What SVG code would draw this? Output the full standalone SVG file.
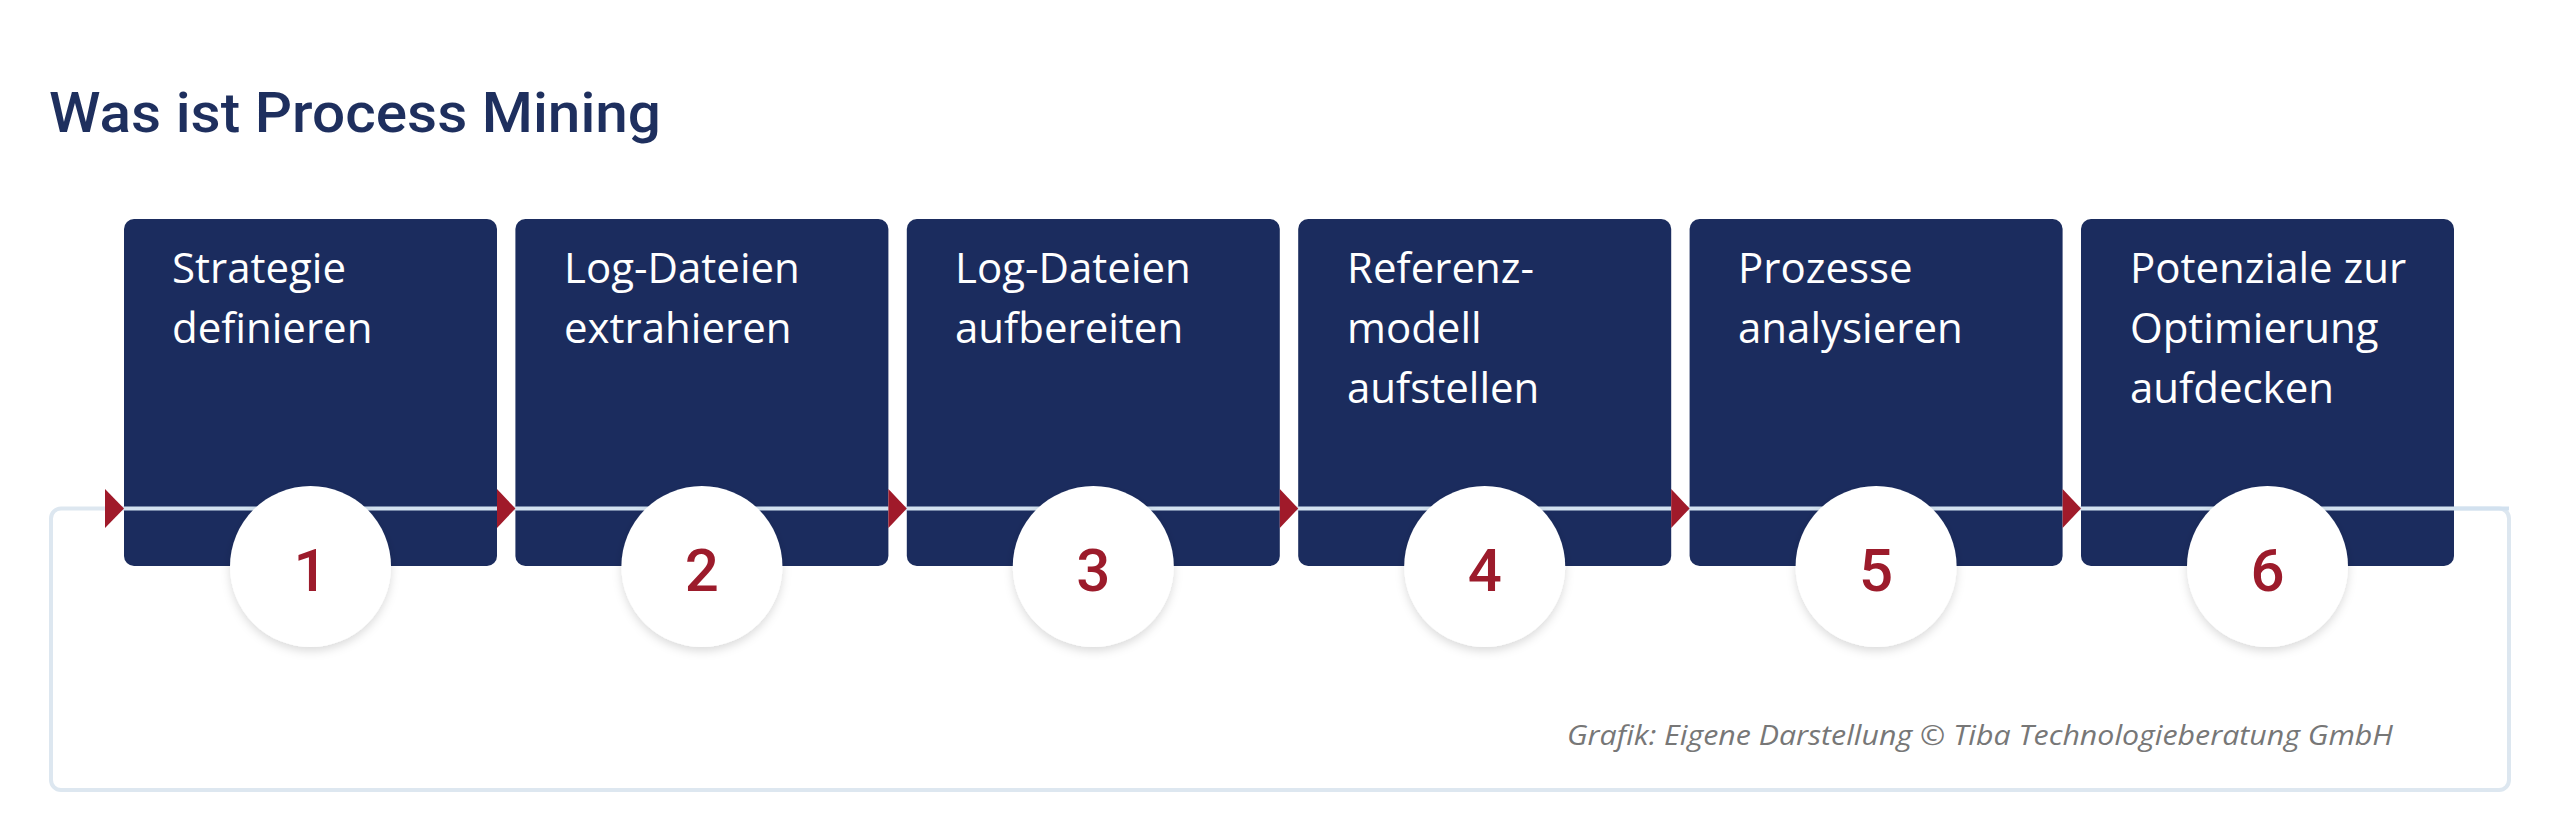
<svg xmlns="http://www.w3.org/2000/svg" width="2560" height="832" viewBox="0 0 2560 832">
<defs>
<style>
.box{fill:#1b2c5e}
.lbl{font-family:"Open Sans","Noto Sans",sans-serif;font-size:42px;fill:#ffffff}
.num{font-family:Roboto,"Open Sans",sans-serif;font-size:60px;font-weight:500;fill:#9c1b2b;text-anchor:middle}
.circ{fill:#ffffff;filter:url(#sh)}
.arr{fill:#a01a2a}
.ln{stroke:#d2e1ef;stroke-width:4;fill:none}
</style>
<filter id="sh" x="-30%" y="-30%" width="160%" height="170%">
<feDropShadow dx="0" dy="4" stdDeviation="5" flood-color="#000000" flood-opacity="0.14"/>
</filter>
</defs>
<rect width="2560" height="832" fill="#ffffff"/>
<text x="49" y="132" font-family="Roboto,'Open Sans',sans-serif" font-size="56" font-weight="500" fill="#1e2f5e" textLength="612" lengthAdjust="spacingAndGlyphs">Was ist Process Mining</text>
<rect x="51" y="508.5" width="2458" height="281.5" rx="10" fill="none" stroke="#dde7f0" stroke-width="4"/>
<g id="n1"><rect class="box" x="124" y="219" width="373" height="347" rx="10"/><text class="lbl" x="172" y="283">Strategie</text><text class="lbl" x="172" y="343">definieren</text></g>
<g id="n2"><rect class="box" x="515.4" y="219" width="373" height="347" rx="10"/><text class="lbl" x="564" y="283">Log-Dateien</text><text class="lbl" x="564" y="343">extrahieren</text></g>
<g id="n3"><rect class="box" x="906.8" y="219" width="373" height="347" rx="10"/><text class="lbl" x="955" y="283">Log-Dateien</text><text class="lbl" x="955" y="343">aufbereiten</text></g>
<g id="n4"><rect class="box" x="1298.2" y="219" width="373" height="347" rx="10"/><text class="lbl" x="1347" y="283">Referenz-</text><text class="lbl" x="1347" y="343">modell</text><text class="lbl" x="1347" y="403">aufstellen</text></g>
<g id="n5"><rect class="box" x="1689.6" y="219" width="373" height="347" rx="10"/><text class="lbl" x="1738" y="283">Prozesse</text><text class="lbl" x="1738" y="343">analysieren</text></g>
<g id="n6"><rect class="box" x="2081" y="219" width="373" height="347" rx="10"/><text class="lbl" x="2130" y="283">Potenziale zur</text><text class="lbl" x="2130" y="343">Optimierung</text><text class="lbl" x="2130" y="403">aufdecken</text></g>
<g id="connectors">
<line class="ln" x1="105" y1="508.5" x2="2509" y2="508.5"/>
<polygon class="arr" points="105,489 124,508.5 105,528"/>
<polygon class="arr" points="497,489 515.4,508.5 497,528"/>
<polygon class="arr" points="888.4,489 906.8,508.5 888.4,528"/>
<polygon class="arr" points="1279.8,489 1298.2,508.5 1279.8,528"/>
<polygon class="arr" points="1671.2,489 1689.6,508.5 1671.2,528"/>
<polygon class="arr" points="2062.6,489 2081,508.5 2062.6,528"/>
</g>
<g id="c1"><circle class="circ" cx="310.5" cy="566.5" r="80.5"/><text class="num" x="310.5" y="591">1</text></g>
<g id="c2"><circle class="circ" cx="701.9" cy="566.5" r="80.5"/><text class="num" x="701.9" y="591">2</text></g>
<g id="c3"><circle class="circ" cx="1093.3" cy="566.5" r="80.5"/><text class="num" x="1093.3" y="591">3</text></g>
<g id="c4"><circle class="circ" cx="1484.7" cy="566.5" r="80.5"/><text class="num" x="1484.7" y="591">4</text></g>
<g id="c5"><circle class="circ" cx="1876.1" cy="566.5" r="80.5"/><text class="num" x="1876.1" y="591">5</text></g>
<g id="c6"><circle class="circ" cx="2267.5" cy="566.5" r="80.5"/><text class="num" x="2267.5" y="591">6</text></g>
<text x="1567" y="745" font-family="'Open Sans','Noto Sans',sans-serif" font-size="28" font-style="italic" fill="#777777" textLength="826" lengthAdjust="spacingAndGlyphs">Grafik: Eigene Darstellung © Tiba Technologieberatung GmbH</text>
</svg>
